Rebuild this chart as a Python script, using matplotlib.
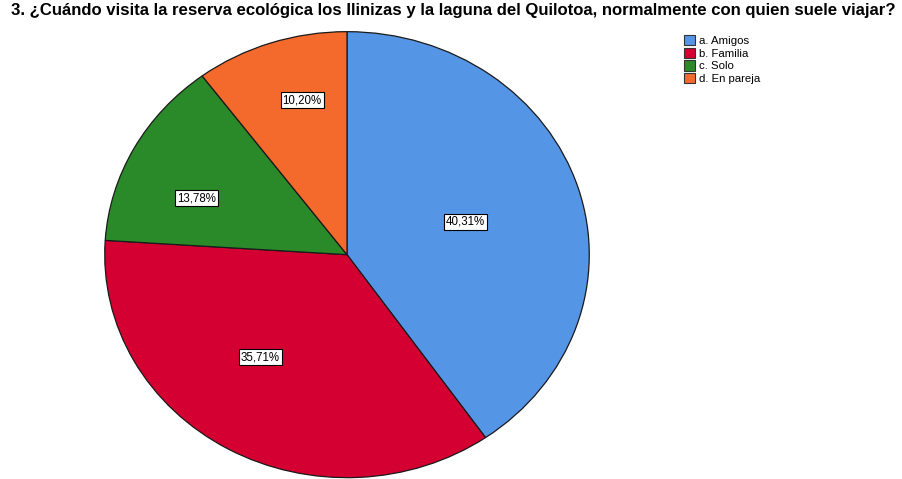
import matplotlib
matplotlib.use("Agg")
import matplotlib.pyplot as plt
from matplotlib.patches import Patch

plt.rcParams['font.family'] = ['Liberation Sans', 'DejaVu Sans']

# Datos
categorias = ["a. Amigos", "b. Familia", "c. Solo", "d. En pareja"]
porcentajes = [40.31, 35.71, 13.78, 10.20]
etiquetas = ["40,31%", "35,71%", "13,78%", "10,20%"]
colores = ["#5595e6", "#d50032", "#2a8a2a", "#f4692c"]

# posiciones de las etiquetas (coordenadas del eje)
pos_etiquetas = [(0.49, 0.147), (-0.358, -0.46), (-0.621, 0.254), (-0.185, 0.692)]

fig = plt.figure(figsize=(9.03, 4.79), dpi=100)
ax = fig.add_axes([104 / 903, 0.0, 486 / 903, 448 / 479])

ax.pie(porcentajes, colors=colores, startangle=90, counterclock=False,
       wedgeprops={"edgecolor": "#1a1a1a", "linewidth": 0.9})
ax.set_aspect("auto")
ax.set_xlim(-1.003, 1.003)
ax.set_ylim(-1.006, 1.003)
ax.axis("off")

for (x, y), txt in zip(pos_etiquetas, etiquetas):
    ax.text(x, y, txt, ha="center", va="center", fontsize=8.3,
            bbox=dict(boxstyle="square,pad=0.18", facecolor="white",
                      edgecolor="black", linewidth=0.8))

fig.text(0.5015, 1 - 10 / 479, "3. ¿Cuándo visita la reserva ecológica los Ilinizas y la laguna del Quilotoa, "
         "normalmente con quien suele viajar?", ha="center", va="center",
         fontsize=12.1, fontweight="bold")

handles = [Patch(facecolor=c, edgecolor="#333333", linewidth=0.8) for c in colores]
fig.legend(handles, categorias, loc="upper left", bbox_to_anchor=(676 / 903, 1 - 27 / 479),
           frameon=False, fontsize=8.2, handlelength=1.0, handleheight=1.0,
           handletextpad=0.3, labelspacing=0.15, borderpad=0.2)

fig.savefig("out.png", dpi=100)
